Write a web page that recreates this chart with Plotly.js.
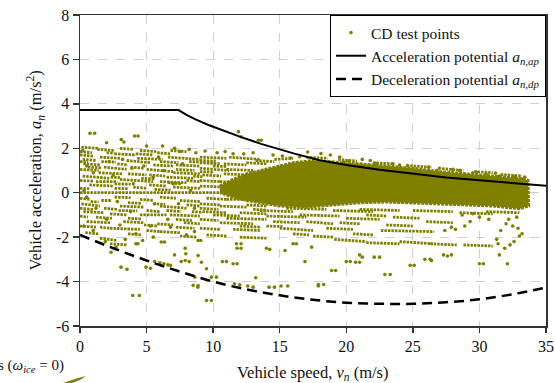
<!DOCTYPE html>
<html><head><meta charset="utf-8">
<script src="https://cdn.plot.ly/plotly-3.0.1.min.js"></script>
<style>html,body{margin:0;padding:0;background:#fff}#chart{width:555px;height:383px}</style>
</head><body><div id="chart"></div>
<script>
// Axis ticks
const xTicks = [0, 5, 10, 15, 20, 25, 30, 35];
const yTicks = [-6, -4, -2, 0, 2, 4, 6, 8];
const yTickText = ['-6', '-4', '-2', '0', '2', '4', '6', '8'];
// Acceleration potential (solid)
const accelX = [0, 7.4, 8.0, 8.6, 9.6, 11.1, 12.1, 13.6, 14.6, 16.1, 18, 20, 22.5, 25, 27.5, 30, 32.5, 35];
const accelY = [3.72, 3.72, 3.5, 3.32, 3.06, 2.72, 2.5, 2.2, 2.02, 1.76, 1.46, 1.25, 1.03, 0.85, 0.69, 0.56, 0.43, 0.31];
// Deceleration potential (dashed)
const decelX = [0, 2.5, 5, 7.5, 10, 12.5, 15, 17.5, 20, 22.5, 25, 27.5, 30, 32.5, 35];
const decelY = [-1.9, -2.5, -3.05, -3.55, -4.0, -4.35, -4.62, -4.82, -4.95, -5.0, -5.0, -4.93, -4.8, -4.57, -4.27];
// Dense core of CD test points (outline of the solid mass)
const coreX = [10.5, 11.5, 12.5, 13.5, 14.5, 16.0, 17.5, 19.0, 21.0, 23.0, 25.0, 27.0, 29.0, 31.0, 33.0, 33.65,
               33.7, 33.0, 31.0, 29.0, 27.0, 25.0, 23.0, 21.0, 19.0, 17.0, 15.0, 13.5, 12.5, 11.5, 10.5];
const coreY = [0.3, 0.6, 0.85, 1.0, 1.15, 1.35, 1.45, 1.4, 1.3, 1.2, 1.1, 0.95, 0.85, 0.75, 0.65, 0.55,
               -0.6, -0.72, -0.6, -0.55, -0.5, -0.45, -0.42, -0.45, -0.55, -0.65, -0.6, -0.45, -0.35, -0.2, 0.0];
// Rows of consecutive CD test points: [x0, y0, x1, y1]
const streaks = [
 [0,0,13.5,0],
 [0.1,2.05,1.4,2.0],[1.3,1.95,2.6,1.9],[3.0,2.0,4.0,1.95],[4.5,1.9,5.8,1.85],[5.8,1.8,6.8,1.75],[6.6,1.6,9.0,1.5],
 [0.0,1.7,1.0,1.65],[1.5,1.6,3.0,1.55],[3.5,1.45,5.3,1.35],[0.25,1.3,1.5,1.25],[1.8,1.15,3.5,1.05],[5.0,1.05,7.0,0.95],
 [7.0,0.9,9.0,0.85],[0.2,0.75,2.2,0.65],[3.0,0.6,5.5,0.5],[6.0,0.5,8.0,0.45],[0.7,0.35,2.5,0.3],[4.0,0.25,5.0,0.2],
 [0.1,-0.5,1.5,-0.6],[3.0,-0.6,4.8,-0.65],[6.0,-0.6,8.0,-0.7],[0.25,-0.85,1.75,-0.9],[2.25,-0.95,3.5,-1.0],
 [4.5,-1.0,6.5,-1.0],[6.75,-1.0,9.0,-1.05],[0.5,-1.3,2.25,-1.35],[3.25,-1.3,4.75,-1.35],[1.5,-1.55,2.25,-1.6],
 [2.25,-1.6,4.5,-1.65],[5.0,-1.7,6.0,-1.75],[6.0,-1.75,7.5,-1.8],[1.5,-2.05,2.75,-2.15],[2.25,-2.3,3.5,-2.35],
 [2.6,1.75,4.2,1.7],[4.3,1.55,6.2,1.5],[0.2,1.5,1.2,1.45],[2.8,1.3,3.6,1.25],[5.5,1.25,7.0,1.2],[7.2,1.25,9.0,1.2],
 [0.0,1.05,1.4,1.0],[3.6,0.85,5.0,0.8],[1.2,0.5,2.8,0.5],[6.5,0.7,8.5,0.65],[5.2,0.35,6.5,0.3],[7.0,0.25,9.0,0.2],
 [0.0,-0.25,0.8,-0.3],[1.6,-0.35,2.4,-0.35],[4.5,-0.3,5.5,-0.35],[7.5,-0.35,9.0,-0.4],[1.8,-0.7,2.8,-0.75],
 [5.0,-0.8,6.0,-0.85],[7.8,-1.35,9.0,-1.4],[5.8,-1.4,7.0,-1.45],[0.0,-1.05,0.6,-1.1],
 [0.0,1.85,0.9,1.8],[2.0,1.8,2.6,1.78],[4.2,1.75,5.5,1.7],[6.8,1.9,8.0,1.85],[0.0,1.4,0.6,1.38],[1.6,1.4,2.7,1.38],
 [6.0,1.4,7.4,1.35],[8.2,1.4,9.0,1.38],[0.6,1.15,1.6,1.12],[3.8,1.15,4.8,1.1],[7.2,1.05,8.6,1.0],[1.4,0.9,3.2,0.85],
 [5.2,0.8,6.4,0.75],[8.5,0.75,9.2,0.72],[2.3,0.7,3.0,0.68],[4.6,0.65,5.6,0.62],[0.0,0.55,1.0,0.52],[8.0,0.55,9.0,0.5],
 [2.6,0.4,3.8,0.38],[6.6,0.45,7.6,0.4],[0.0,0.2,0.7,0.18],[2.6,0.2,3.6,0.18],[5.6,0.15,6.8,0.12],
 [2.6,-0.2,3.8,-0.22],[6.0,-0.2,7.2,-0.25],[0.8,-0.4,1.4,-0.42],[3.6,-0.45,4.6,-0.48],[5.5,-0.5,6.4,-0.52],
 [8.0,-0.55,9.0,-0.6],[0.0,-0.7,1.0,-0.75],[2.9,-0.8,4.3,-0.82],[6.5,-0.8,7.6,-0.85],[8.4,-0.85,9.2,-0.88],
 [1.2,-1.1,2.4,-1.15],[3.6,-1.15,4.6,-1.18],[7.2,-1.2,8.4,-1.25],[0.0,-1.5,1.2,-1.55],[4.8,-1.45,5.8,-1.5],
 [7.2,-1.55,8.6,-1.6],[3.6,-1.85,4.6,-1.9],[7.5,-1.95,8.8,-2.0],[0.4,-1.8,1.4,-1.85],
 [9.0,1.6,11.0,1.55],[11.2,1.6,13.5,1.5],[9.0,1.35,10.5,1.3],[10.8,1.3,12.5,1.25],[12.5,1.35,14.0,1.3],
 [9.0,1.1,11.2,1.0],[11.0,1.05,13.0,1.0],[9.2,0.8,10.6,0.75],[10.8,0.85,12.5,0.8],[12.5,0.75,14.0,0.7],
 [9.0,0.55,10.5,0.5],[10.5,0.5,12.0,0.45],[12.0,0.55,14.0,0.5],[9.0,0.3,11.0,0.25],[11.2,0.3,13.0,0.25],
 [9.5,-0.25,11.0,-0.3],[11.0,-0.3,13.0,-0.3],[9.0,-0.5,10.5,-0.55],[10.5,-0.6,12.5,-0.65],[12.5,-0.55,14.0,-0.6],
 [9.2,-0.85,11.0,-0.9],[10.0,-1.0,12.0,-1.05],[11.0,-1.15,14.0,-1.2],[10.5,-1.35,13.0,-1.4],[12.0,-0.9,14.0,-0.95],
 [9.0,-1.6,10.5,-1.65],[11.5,-1.65,13.5,-1.7],[9.5,-1.9,11.0,-1.95],[12.0,-2.0,14.0,-2.05],
 [9.0,1.45,10.2,1.42],[10.0,1.2,11.0,1.18],[9.0,0.95,10.0,0.92],[9.0,-0.7,10.4,-0.75],[9.0,-1.2,10.4,-1.25],
 [12.0,-1.5,13.6,-1.55],[13.0,-0.75,14.0,-0.78],[13.2,1.45,14.6,1.4],
 [13.5,-0.8,16.0,-0.85],[14.0,-1.05,17.0,-1.1],[15.5,-0.7,18.5,-0.75],[14.5,-1.3,16.5,-1.35],[16.5,-1.0,19.5,-1.05],
 [17.0,-1.3,19.0,-1.4],[15.0,-1.6,17.5,-1.7],[18.5,-1.6,20.5,-1.65],[19.0,-0.8,22.0,-0.85],[20.0,-1.15,22.5,-1.2],
 [21.0,-0.75,24.0,-0.8],[22.6,-1.7,26.6,-1.75],[19.1,-2.1,21.5,-2.2],[21.5,-2.25,24.0,-2.3],[24.0,-2.2,26.5,-2.3],
 [26.3,-2.3,28.3,-2.35],[28.8,-2.35,31.0,-2.4],[23.5,-1.1,25.5,-1.15],[25.0,-0.8,28.0,-0.85],[26.0,-1.3,28.0,-1.35],
 [28.5,-0.9,31.0,-0.95],[17.5,-1.95,19.0,-2.0],[23.0,-1.45,25.0,-1.5],[30.5,-0.85,33.0,-0.9],
 [14.0,-1.5,15.2,-1.52],[16.0,-1.85,17.2,-1.9],[19.5,-1.35,21.0,-1.4],[21.5,-1.0,23.0,-1.05],[20.5,-1.85,22.0,-1.9],
 [14.6,1.5,16.0,1.55],[17.0,1.6,18.6,1.55],[19.4,1.5,20.8,1.42],[22.0,1.35,23.6,1.3],[24.8,1.22,26.4,1.15],
 [27.2,1.08,28.8,1.0],[29.6,0.95,31.0,0.9],[31.6,0.82,33.2,0.75]
];
// Individual CD test points
const pointsX = [0.75,1.1,4.1,4.36,3.1,3.3,11.9,12.1,13.4,13.6,9.4,10.3,10.9,11.5,12.3,13.0,14.5,15.2,17.1,18.1,18.8,19.5,21.2,21.8,23.5,24.0,26.2,27.0,28.5,29.5,30.5,31.5,32.5,33.2,6.2,7.5,8.2,2.0,5.0,
 2.33,3.08,3.53,3.96,4.46,4.96,5.29,5.6,6.0,6.3,6.6,6.8,7.1,7.6,7.9,8.2,8.5,8.85,7.9,7.95,6.1,6.35,4.2,4.35,8.87,9.07,8.87,9.12,9.5,9.87,10.25,8.62,8.87,9.5,9.87,10.7,11.0,11.5,11.8,11.75,12.1,11.8,12.1,13.2,11.6,12.0,12.6,13.0,14.2,14.6,15.1,15.6,14.0,14.25,15.4,16.9,17.9,16.0,16.25,17.4,20.0,20.3,20.7,21.0,18.9,19.2,17.9,18.3,22.9,23.3,24.8,25.1,21.0,21.2,22.1,22.5,25.9,26.3,27.3,27.6,27.9,26.4,30.0,30.3,32.1,31.5,31.9,32.3,32.6,33.0,33.2,32.9,32.5,32.2,32.8,31.6,32.0,31.3,31.4,28.7,29.3,28.9,27.9,27.4,28.2,29.5,30.0,30.7,
 0.3,1.0,2.5,3.2,4.0,4.8,5.5,6.3,7.0,7.7,8.3,0.5,1.2,2.8,3.8,5.6,6.6,7.4,8.6,0.3,1.0,2.0,3.0,4.2,5.3,6.8,8.0,8.6,0.2,0.5,2.2,3.9,5.9,7.1,8.7,3.4,2.7,1.9,4.7,5.5,
 16.5,20.2,24.6,28.0,31.2,33.4,15.8,19.8,22.2,26.8,29.8,32.6];
const pointsY = [2.68,2.68,2.55,2.55,2.39,2.28,2.75,2.52,2.36,2.36,1.88,1.8,1.85,1.75,1.75,1.8,1.7,1.65,1.83,1.76,1.7,1.6,1.5,1.45,1.3,1.25,1.15,1.1,1.0,0.9,0.85,0.75,0.65,0.6,2.1,1.85,1.95,2.25,2.1,
 -2.68,-3.35,-3.45,-4.63,-4.63,-3.35,-3.4,-3.1,-3.15,-3.2,-3.25,-3.27,-2.8,-3.1,-3.05,-3.1,-4.17,-4.25,-2.5,-2.75,-2.22,-2.22,-2.3,-2.3,-2.15,-2.15,-2.83,-3.13,-3.42,-3.8,-3.8,-3.8,-4.18,-4.85,-4.85,-3.1,-3.1,-3.2,-3.2,-2.3,-2.3,-2.5,-2.5,-3.83,-4.1,-4.15,-4.2,-4.25,-4.25,-4.25,-4.2,-4.2,-2.5,-2.55,-2.6,-3.1,-4.2,-2.3,-2.3,-2.45,-3.1,-3.1,-3.13,-3.13,-3.5,-3.5,-4.13,-4.13,-3.68,-3.68,-3.27,-3.27,-2.8,-2.9,-2.9,-2.9,-3.0,-3.0,-2.8,-2.85,-2.8,-3.05,-3.2,-3.2,-3.2,-2.8,-2.5,-2.35,-2.2,-1.95,-1.85,-1.6,-1.5,-1.2,-1.1,-1.7,-1.4,-2.1,-2.3,-1.0,-1.3,-1.5,-1.55,-1.7,-1.65,-0.95,-1.1,-1.2,
 0.1,0.9,0.8,1.5,0.4,1.2,0.7,1.0,0.4,1.3,0.1,-0.2,-0.7,-0.4,-0.85,-0.5,-1.2,-0.5,-0.7,-1.5,-1.7,-1.2,-1.45,-1.85,-1.5,-1.55,-1.9,-1.75,1.9,1.2,1.4,1.1,1.6,2.0,1.8,-2.1,-2.45,-2.2,-2.15,-2.0,
 1.62,1.42,1.22,1.05,0.88,0.7,1.56,1.38,1.32,1.0,0.92,0.72];

const OLIVE = '#7f7f00';
const streakX = [], streakY = [];
streaks.forEach(s => { streakX.push(s[0], s[2], null); streakY.push(s[1], s[3], null); });

const traces = [
  {x: coreX, y: coreY, type: 'scatter', mode: 'lines', fill: 'toself', fillcolor: OLIVE,
   line: {color: OLIVE, width: 3, dash: '3px,1px'}, showlegend: false, hoverinfo: 'skip'},
  {x: streakX, y: streakY, type: 'scatter', mode: 'lines', connectgaps: false,
   line: {color: OLIVE, width: 2.8, dash: '2.5px,1px'}, showlegend: false, hoverinfo: 'skip'},
  {x: pointsX, y: pointsY, type: 'scatter', mode: 'markers', name: 'CD test points',
   marker: {color: OLIVE, size: 3.6}},
  {x: accelX, y: accelY, type: 'scatter', mode: 'lines',
   name: 'Acceleration potential <i>a</i><sub><i>n,ap</i></sub>',
   line: {color: '#000', width: 2}},
  {x: decelX, y: decelY, type: 'scatter', mode: 'lines', line: {shape: 'spline', color: '#000', width: 2.5, dash: '10px,6px'},
   name: 'Deceleration potential <i>a</i><sub><i>n,dp</i></sub>'}
];

const SERIF = 'Liberation Serif, Times New Roman, serif';
const layout = {
  width: 555, height: 383,
  margin: {l: 80, r: 9, t: 15, b: 57},
  paper_bgcolor: '#fff', plot_bgcolor: '#fff',
  font: {family: SERIF, size: 16, color: '#111'},
  showlegend: true,
  legend: {x: 1, y: 1, xanchor: 'right', yanchor: 'top', bgcolor: '#fff',
           bordercolor: '#000', borderwidth: 1, font: {family: SERIF, size: 15.5, color: '#111'},
           tracegroupgap: 0},
  xaxis: {range: [0, 35], tickvals: xTicks, ticks: 'outside', ticklen: 5, tickwidth: 1.5,
          tickcolor: '#333', showline: true, linecolor: '#333', linewidth: 1.5, mirror: true,
          showgrid: true, gridcolor: '#d0d0d0', griddash: 'dash', gridwidth: 1, zeroline: false,
          tickfont: {family: SERIF, size: 16, color: '#111'}},
  yaxis: {range: [-6, 8], tickvals: yTicks, ticktext: yTickText, ticks: 'outside', ticklen: 6, tickwidth: 1.5,
          tickcolor: '#333', showline: true, linecolor: '#333', linewidth: 1.5, mirror: true,
          showgrid: true, gridcolor: '#d0d0d0', griddash: 'dash', gridwidth: 1, zeroline: false,
          tickfont: {family: SERIF, size: 16, color: '#111'}},
  annotations: [
    {xref: 'paper', yref: 'paper', x: 0.5, y: -0.151, xanchor: 'center', yanchor: 'middle', showarrow: false,
     text: 'Vehicle speed, <i>v</i><sub><i>n</i></sub> (m/s)', font: {family: SERIF, size: 16.5, color: '#111'}},
    {xref: 'paper', yref: 'paper', x: -0.0966, y: 0.5, xanchor: 'center', yanchor: 'middle', showarrow: false, textangle: -90,
     text: 'Vehicle acceleration, <i>a</i><sub><i>n</i></sub> (m/s<sup>2</sup>)', font: {family: SERIF, size: 16.5, color: '#111'}},
    {xref: 'paper', yref: 'paper', x: -0.03, y: -0.1286, xanchor: 'right', yanchor: 'middle',
     showarrow: false, text: 's (<i>ω</i><sub><i>ice</i></sub> = 0)', font: {family: SERIF, size: 15, color: '#111'}}],
  shapes: [{type: 'path', xref: 'paper', yref: 'paper', layer: 'above',
            path: 'M -0.0365,-0.1833 L -0.0043,-0.1672 L 0.0129,-0.1608 L 0,-0.1736 L -0.0172,-0.1833 Z',
            fillcolor: '#7c7e12', line: {width: 0}}]
};
Plotly.newPlot('chart', traces, layout, {staticPlot: true, displayModeBar: false});
</script></body></html>
